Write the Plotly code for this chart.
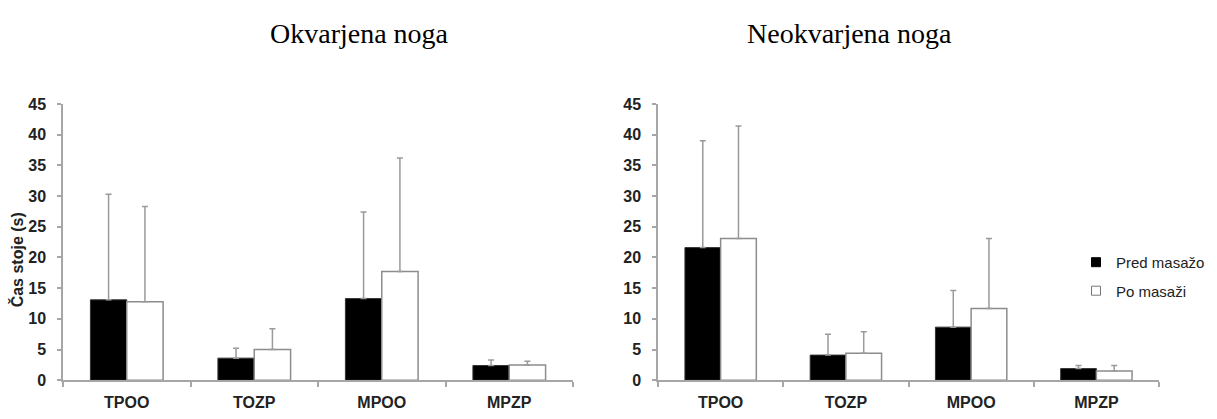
import plotly.graph_objects as go

categories = ["TPOO", "TOZP", "MPOO", "MPZP"]
series_names = ["Pred masažo", "Po masaži"]

left_pred = [13.1, 3.6, 13.3, 2.4]
left_pred_sd = [17.2, 1.6, 14.1, 0.9]
left_po = [12.8, 5.0, 17.7, 2.5]
left_po_sd = [15.5, 3.4, 18.5, 0.6]

right_pred = [21.6, 4.1, 8.65, 1.9]
right_pred_sd = [17.4, 3.4, 5.95, 0.5]
right_po = [23.1, 4.4, 11.7, 1.5]
right_po_sd = [18.3, 3.5, 11.4, 0.9]

titles = ["Okvarjena noga", "Neokvarjena noga"]
y_title = "Čas stoje (s)"
y_ticks = [0, 5, 10, 15, 20, 25, 30, 35, 40, 45]

W, H = 1217, 419
AXIS = "#a6a6a6"
SANS = "Liberation Sans, Arial, sans-serif"
SERIF = "Liberation Serif, Times New Roman, serif"

fig = go.Figure()

def add_pair(pred, pred_sd, po, po_sd, xa, ya):
    fig.add_trace(go.Bar(
        x=categories, y=pred, xaxis=xa, yaxis=ya, showlegend=False,
        marker=dict(color="black", line=dict(color="#333333", width=1)),
        error_y=dict(type="data", array=pred_sd, arrayminus=[0] * len(pred_sd),
                     symmetric=False, color="#9a9a9a", thickness=1.5, width=3),
    ))
    fig.add_trace(go.Bar(
        x=categories, y=po, xaxis=xa, yaxis=ya, showlegend=False,
        marker=dict(color="white", line=dict(color="#8c8c8c", width=1.5)),
        error_y=dict(type="data", array=po_sd, arrayminus=[0] * len(po_sd),
                     symmetric=False, color="#9a9a9a", thickness=1.5, width=3),
    ))

add_pair(left_pred, left_pred_sd, left_po, left_po_sd, "x", "y")
add_pair(right_pred, right_pred_sd, right_po, right_po_sd, "x2", "y2")

# legend entries
fig.add_trace(go.Scatter(
    x=[None], y=[None], mode="markers", name=series_names[0], legendgroup="a",
    marker=dict(symbol="square", size=9, color="black", line=dict(color="black", width=1)),
))
fig.add_trace(go.Scatter(
    x=[None], y=[None], mode="markers", name=series_names[1], legendgroup="b",
    marker=dict(symbol="square", size=9, color="white", line=dict(color="#777777", width=1)),
))

y0, y1 = (H - 388) / H, (H - 100) / H
xdom1 = [63 / W, 573 / W]
xdom2 = [658 / W, 1159 / W]

xcommon = dict(
    type="category", range=[-0.5, 3.5], showline=True, linecolor=AXIS, linewidth=1.5,
    ticks="outside", tickson="boundaries", ticklen=5, tickcolor=AXIS, tickwidth=1.5,
    showgrid=False, zeroline=False,
    tickfont=dict(family=SANS, size=16, color="#222222", weight=700),
    ticklabelstandoff=7, fixedrange=True,
)
ycommon = dict(
    range=[0, 45], tickvals=y_ticks, showline=True, linecolor=AXIS, linewidth=1.5,
    ticks="outside", ticklen=4, tickcolor=AXIS, tickwidth=1.5,
    showgrid=False, zeroline=False,
    tickfont=dict(family=SANS, size=16, color="#222222", weight=700),
    ticklabelstandoff=8, fixedrange=True,
)

fig.update_layout(
    width=W, height=H,
    margin=dict(l=0, r=0, t=0, b=0),
    paper_bgcolor="white", plot_bgcolor="white",
    barmode="group", bargap=0.43, bargroupgap=0,
    xaxis=dict(domain=xdom1, anchor="y", **xcommon),
    yaxis=dict(domain=[y0, y1], anchor="x", **ycommon),
    xaxis2=dict(domain=xdom2, anchor="y2", **xcommon),
    yaxis2=dict(domain=[y0, y1], anchor="x2", **ycommon),
    showlegend=True,
    legend=dict(
        x=1076 / W, y=(H - 248) / H, xanchor="left", yanchor="top",
        font=dict(family=SANS, size=15, color="#222222"),
        bgcolor="rgba(0,0,0,0)", borderwidth=0,
        traceorder="grouped", tracegroupgap=6, itemwidth=30,
    ),
    annotations=[
        dict(text=titles[0], x=268 / W, y=(H - 27) / H, xref="paper", yref="paper",
             xanchor="left", yanchor="middle", showarrow=False,
             font=dict(family=SERIF, size=28, color="black")),
        dict(text=titles[1], x=745 / W, y=(H - 27) / H, xref="paper", yref="paper",
             xanchor="left", yanchor="middle", showarrow=False,
             font=dict(family=SERIF, size=28, color="black")),
        dict(text=y_title, x=17 / W, y=(H - 263) / H, xref="paper", yref="paper",
             xanchor="center", yanchor="middle", showarrow=False, textangle=-90,
             font=dict(family=SANS, size=16, color="#222222", weight=700)),
    ],
)

fig.write_html("out.html")
